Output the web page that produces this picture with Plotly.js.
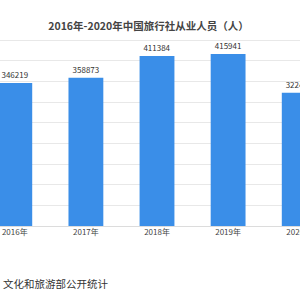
<!DOCTYPE html>
<html>
<head>
<meta charset="utf-8">
<script src="https://cdn.plot.ly/plotly-3.0.1.min.js"></script>
<style>html,body{margin:0;padding:0;background:#fff;}#chart{width:300px;height:300px;}</style>
</head>
<body>
<div id="chart"></div>
<script>
const years = ["2016年", "2017年", "2018年", "2019年", "2020年"];
const employees = [346219, 358873, 411384, 415941, 322462];
const titleText = "2016年-2020年中国旅行社从业人员（人）";
const sourceText = "文化和旅游部公开统计";

const FONT = '"Noto Sans CJK SC", "Noto Sans", sans-serif';

Plotly.newPlot('chart', [{
  type: 'bar',
  x: years,
  y: employees,
  width: 0.49,
  marker: {color: '#3a8ee8'},
  text: employees.map(String),
  textposition: 'outside',
  textfont: {size: 8, color: '#333', family: FONT},
  cliponaxis: false,
  hoverinfo: 'none'
}], {
  width: 300, height: 300,
  margin: {l: 0, r: 0, t: 36, b: 74},
  paper_bgcolor: '#fff', plot_bgcolor: '#fff',
  showlegend: false,
  title: {text: '<b>' + titleText + '</b>', font: {size: 10.5, color: '#444', family: FONT}, x: 0.495, xanchor: 'center', y: 0.913, yanchor: 'middle'},
  xaxis: {
    type: 'category',
    range: [-0.208, 4.011],
    showgrid: false, zeroline: false, showline: false,
    ticks: '',
    tickfont: {size: 8, color: '#444', family: FONT}
  },
  yaxis: {
    range: [0, 459700],
    dtick: 50000,
    showticklabels: false,
    gridcolor: '#e8e8e8', gridwidth: 1,
    zeroline: true, zerolinecolor: '#dcdcdc', zerolinewidth: 1,
    showline: false, ticks: ''
  },
  annotations: [{
    text: sourceText,
    xref: 'paper', yref: 'paper',
    x: 0, y: -0.3, xanchor: 'left', yanchor: 'middle', xshift: 1,
    showarrow: false,
    font: {size: 10.5, color: '#333', family: FONT}
  }]
}, {displayModeBar: false, staticPlot: true});
</script>
</body>
</html>
